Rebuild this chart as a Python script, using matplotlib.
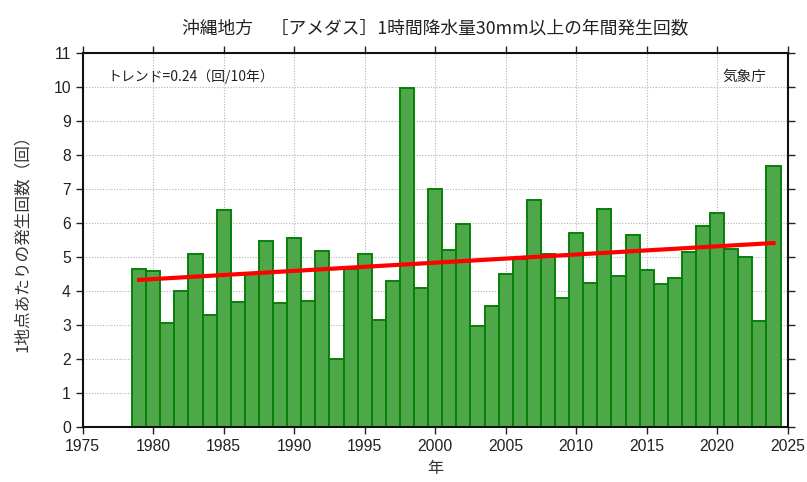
import matplotlib

matplotlib.use("Agg")
import matplotlib.pyplot as plt
import numpy as np

plt.rcParams["font.family"] = ["Noto Sans CJK JP", "DejaVu Sans"]

YEARS = list(range(1979, 2025))
COUNTS = [
    4.65, 4.59, 3.05, 4.00, 5.09, 3.29, 6.38, 3.67, 4.52, 5.46,  # 1979-1988
    3.63, 5.55, 3.71, 5.18, 1.99, 4.65, 5.08, 3.13, 4.29, 9.96,  # 1989-1998
    4.08, 6.99, 5.21, 5.96, 2.97, 3.56, 4.50, 4.94, 6.68, 5.09,  # 1999-2008
    3.78, 5.71, 4.23, 6.40, 4.42, 5.64, 4.62, 4.19, 4.36, 5.15,  # 2009-2018
    5.89, 6.28, 5.24, 5.00, 3.12, 7.68,                          # 2019-2024
]
X_TICKS = list(range(1975, 2030, 5))
Y_TICKS = list(range(0, 12))

TITLE = "沖縄地方　［アメダス］1時間降水量30mm以上の年間発生回数"
TREND_TEXT = "トレンド=0.24（回/10年）"
SOURCE_TEXT = "気象庁"
BAR_FACE = "#4ea84a"
BAR_EDGE = "#07800a"

fig = plt.figure(figsize=(8.07, 4.82), dpi=100)
ax = fig.add_axes([0.1025, 0.1147, 0.8735, 0.776])

ax.bar(YEARS, COUNTS, width=1.0, color=BAR_FACE, edgecolor=BAR_EDGE, linewidth=1.4, zorder=2)

# least-squares trend over the plotted years
slope, intercept = np.polyfit(YEARS, COUNTS, 1)
trend_x = np.array([YEARS[0], YEARS[-1]])
ax.plot(trend_x, slope * trend_x + intercept, color="#ff0000", linewidth=3, zorder=3)

ax.set_xlim(1975, 2025)
ax.set_ylim(0, 11)
ax.set_xticks(X_TICKS)
ax.set_yticks(Y_TICKS)
ax.tick_params(direction="out", length=5, width=1, top=True, right=True,
               labelsize=11.3, colors="#222222")
for label in ax.get_xticklabels() + ax.get_yticklabels():
    label.set_family("Liberation Sans")
ax.grid(True, color="#b4b4b4", linestyle=(0, (1, 1.5)), linewidth=0.8, zorder=0)
ax.set_axisbelow(True)
for spine in ax.spines.values():
    spine.set_linewidth(1.5)
    spine.set_color("#111111")

ax.text(0.035, 0.955, TREND_TEXT, transform=ax.transAxes, fontsize=10,
        ha="left", va="top", color="#222222")
ax.text(0.97, 0.955, SOURCE_TEXT, transform=ax.transAxes, fontsize=10.5,
        ha="right", va="top", color="#222222")

ax.set_xlabel("年", fontsize=11.5, color="#333333", labelpad=5)
ax.set_ylabel("1地点あたりの発生回数（回）", fontsize=12, color="#333333", labelpad=16)
ax.set_title(TITLE, fontsize=12.8, color="#222222", pad=13)

fig.savefig("out.png", dpi=100)
